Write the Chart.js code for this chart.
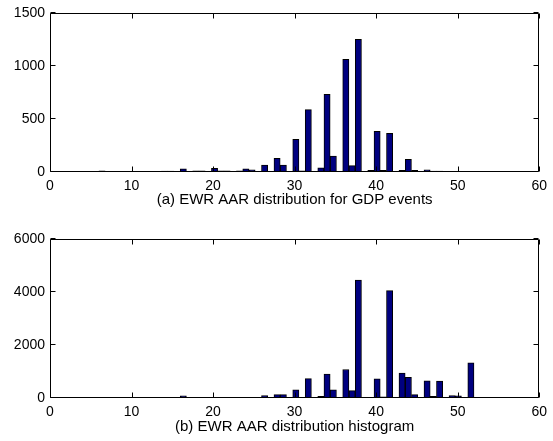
<!DOCTYPE html>
<html>
<head>
<meta charset="utf-8">
<script src="https://cdn.jsdelivr.net/npm/chart.js@4/dist/chart.umd.min.js"></script>
<style>
  html, body { margin: 0; padding: 0; background: #fff; }
  #wrap { position: relative; width: 553px; height: 441px; overflow: hidden; }
  canvas { position: absolute; left: 0; }
  #c1 { top: 0; }
  #c2 { top: 220px; }
</style>
</head>
<body>
<div id="wrap">
  <canvas id="c1" width="553" height="220"></canvas>
  <canvas id="c2" width="553" height="221"></canvas>
</div>
<script>
// Histogram bin centers (AAR value), 60 bins spanning 6..52
const binCenters = [
  6.38, 7.15, 7.92, 8.68, 9.45, 10.22, 10.98, 11.75, 12.52, 13.28,
  14.05, 14.82, 15.58, 16.35, 17.12, 17.88, 18.65, 19.42, 20.18, 20.95,
  21.72, 22.48, 23.25, 24.02, 24.78, 25.55, 26.32, 27.08, 27.85, 28.62,
  29.38, 30.15, 30.92, 31.68, 32.45, 33.22, 33.98, 34.75, 35.52, 36.28,
  37.05, 37.82, 38.58, 39.35, 40.12, 40.88, 41.65, 42.42, 43.18, 43.95,
  44.72, 45.48, 46.25, 47.02, 47.78, 48.55, 49.32, 50.08, 50.85, 51.62
];

// (a) counts for GDP events
const gdpCounts = [
  10, 0, 0, 0, 0, 0, 0, 0, 0, 0,
  8, 8, 0, 30, 0, 10, 10, 0, 35, 10,
  10, 0, 10, 30, 20, 0, 65, 0, 130, 65,
  0, 310, 12, 590, 0, 40, 735, 150, 0, 1065,
  60, 1255, 0, 15, 385, 15, 365, 0, 15, 120,
  15, 0, 20, 8, 8, 0, 0, 5, 0, 5
];

// (b) counts for all hours
const allCounts = [
  20, 0, 0, 0, 0, 10, 0, 0, 0, 0,
  0, 10, 0, 80, 0, 30, 30, 0, 30, 20,
  20, 0, 30, 30, 30, 0, 90, 0, 130, 130,
  0, 310, 20, 730, 0, 60, 900, 310, 0, 1075,
  280, 4450, 0, 20, 720, 40, 4050, 0, 940, 780,
  130, 0, 650, 60, 640, 0, 90, 80, 30, 1330
];

const xTicks = [0, 10, 20, 30, 40, 50, 60];
const yTicksA = [0, 500, 1000, 1500];
const yTicksB = [0, 2000, 4000, 6000];
const captionA = '(a) EWR AAR distribution for GDP events';
const captionB = '(b) EWR AAR distribution histogram';

const FONT = '"Liberation Sans", Arial, sans-serif';

const framePlugin = {
  id: 'frame',
  afterDatasetsDraw(chart) {
    const { ctx, chartArea: a, scales: { x, y } } = chart;
    const L = Math.round(a.left) + 0.5, R = Math.round(a.right) - 0.5;
    const T = Math.round(a.top) + 0.5, B = Math.round(a.bottom) - 0.5;
    const tl = 5;
    ctx.save();
    ctx.strokeStyle = '#000';
    ctx.lineWidth = 1;
    ctx.beginPath();
    ctx.rect(L, T, R - L, B - T);
    x.ticks.forEach(t => {
      const px = Math.round(x.getPixelForValue(t.value)) + 0.5;
      ctx.moveTo(px, B); ctx.lineTo(px, B - tl);
      ctx.moveTo(px, T); ctx.lineTo(px, T + tl);
    });
    y.ticks.forEach(t => {
      const py = Math.round(y.getPixelForValue(t.value)) - 0.5;
      ctx.moveTo(L, py); ctx.lineTo(L + tl, py);
      ctx.moveTo(R, py); ctx.lineTo(R - tl, py);
    });
    ctx.stroke();
    ctx.restore();
  }
};

function makeChart(id, counts, yTicks, caption, pad, xHeight, capPad) {
  const ymax = yTicks[yTicks.length - 1];
  return new Chart(document.getElementById(id), {
    type: 'bar',
    data: {
      datasets: [{
        data: binCenters.map((c, i) => ({ x: c, y: counts[i] })),
        backgroundColor: '#000080',
        borderColor: '#000000',
        borderWidth: 1,
        borderSkipped: false,
        barPercentage: 1,
        categoryPercentage: 1
      }]
    },
    options: {
      responsive: false,
      animation: false,
      events: [],
      layout: { padding: pad },
      plugins: { legend: { display: false }, tooltip: { enabled: false } },
      scales: {
        x: {
          type: 'linear',
          offset: false,
          min: xTicks[0], max: xTicks[xTicks.length - 1],
          afterBuildTicks: s => { s.ticks = xTicks.map(v => ({ value: v })); },
          afterFit: s => { s.height = xHeight; },
          grid: { display: false, drawTicks: false, offset: false },
          border: { display: false },
          ticks: { color: '#000', font: { family: FONT, size: 14 }, padding: 6, maxRotation: 0, callback: v => String(v) },
          title: { display: true, text: caption, color: '#000', font: { family: FONT, size: 15 }, padding: { top: 0, bottom: capPad } }
        },
        y: {
          min: 0, max: ymax,
          afterBuildTicks: s => { s.ticks = yTicks.map(v => ({ value: v })); },
          afterFit: s => { s.width = 50; },
          grid: { display: false, drawTicks: false },
          border: { display: false },
          ticks: { color: '#000', font: { family: FONT, size: 14 }, padding: 5, callback: v => String(v) }
        }
      }
    },
    plugins: [framePlugin]
  });
}

makeChart('c1', gdpCounts, yTicksA, captionA, { left: 0, right: 10, top: 13, bottom: 0 }, 48, 11);
makeChart('c2', allCounts, yTicksB, captionB, { left: 0, right: 10, top: 19, bottom: 0 }, 43, 5);
</script>
</body>
</html>
